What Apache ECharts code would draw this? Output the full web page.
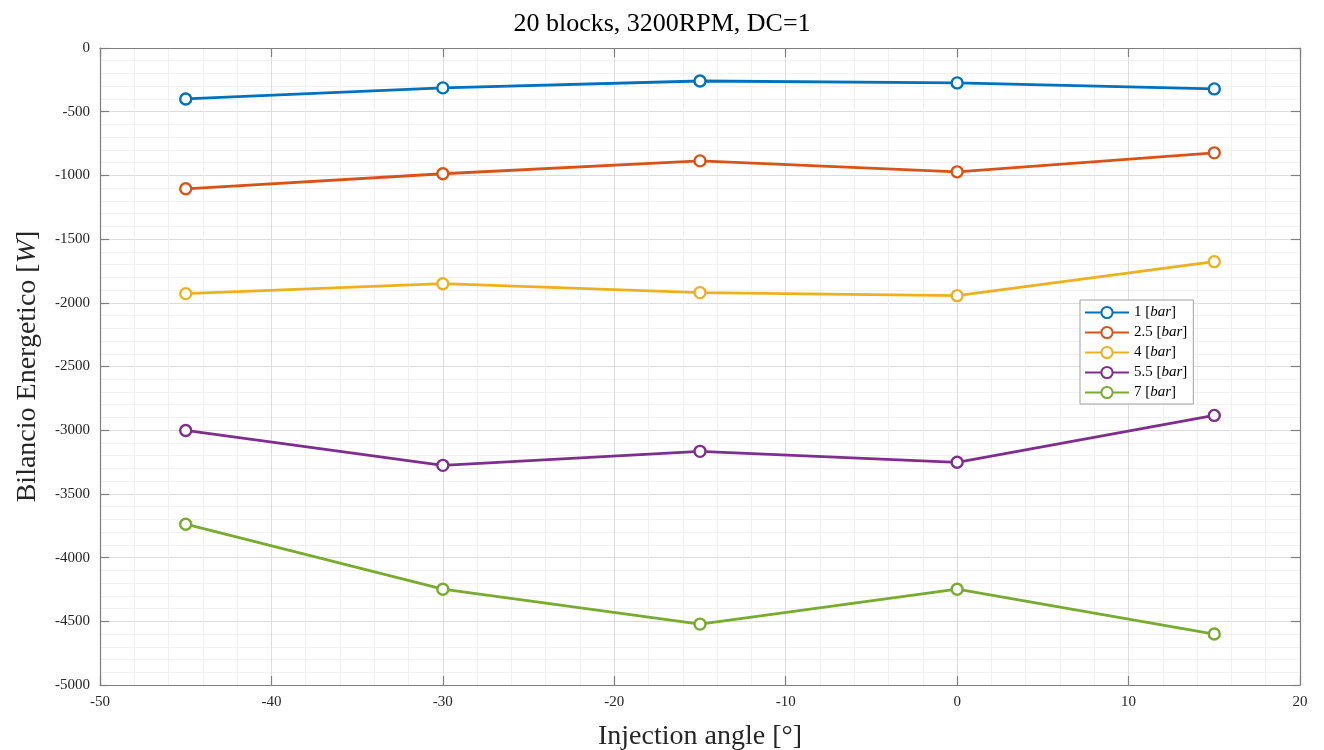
<!DOCTYPE html>
<html><head><meta charset="utf-8">
<script src="https://cdn.jsdelivr.net/npm/echarts@6/dist/echarts.min.js"></script>
<style>html,body{margin:0;padding:0;background:#fff}#c{width:1324px;height:750px}</style>
</head><body><div id="c"></div>
<script>
const angles = [-45, -30, -15, 0, 15];
const seriesNames = ['1', '2.5', '4', '5.5', '7'];
const p1 = [-400, -313, -259, -274, -321];
const p25 = [-1105, -987, -886, -972, -823];
const p4 = [-1928, -1850, -1920, -1944, -1677];
const p55 = [-3002, -3276, -3166, -3252, -2884];
const p7 = [-3738, -4248, -4522, -4248, -4600];
const xTicks = [-50, -40, -30, -20, -10, 0, 10, 20];
const yTicks = [-5000, -4500, -4000, -3500, -3000, -2500, -2000, -1500, -1000, -500, 0];
const colors = ['#0072BD', '#D95319', '#EDB120', '#7E2F8E', '#77AC30'];
const allVals = [p1, p25, p4, p55, p7];
const font = 'Liberation Serif';
const chart = echarts.init(document.getElementById('c'));
const axCol = '#7f7f7f';
const baseAxis = (isX) => ({
  type: 'value',
  min: isX ? xTicks[0] : yTicks[0],
  max: isX ? xTicks[xTicks.length-1] : yTicks[yTicks.length-1],
  interval: isX ? 10 : 500,
  axisLine: {show: true, onZero: false, lineStyle: {color: axCol, width: 1.2}},
  axisTick: {show: true, inside: true, length: 9, lineStyle: {color: axCol, width: 1.2}},
  minorTick: {show: false, splitNumber: 5},
  splitLine: {show: true, lineStyle: {color: '#dcdcdc', width: 1}},
  minorSplitLine: {show: true, lineStyle: {color: '#f1f1f1', width: 1}},
  axisLabel: {show: true, color: '#262626', fontFamily: font, fontSize: 15, formatter: (v) => String(v)}
});
const xMain = Object.assign(baseAxis(true), {
  position: 'bottom',
  name: 'Injection angle [°]', nameLocation: 'middle', nameGap: 38,
  nameTextStyle: {fontFamily: font, fontSize: 28, color: '#262626'},
  axisLabel: {show: true, color: '#262626', fontFamily: font, fontSize: 15, margin: 10, formatter: (v) => String(v)}
});
const xTop = Object.assign(baseAxis(true), {position: 'top', axisLabel: {show: false}, splitLine: {show: false}, minorSplitLine: {show: false}});
const yMain = Object.assign(baseAxis(false), {
  position: 'left',
  name: '{n|Bilancio Energetico [}{i|W}{n|]}', nameLocation: 'middle', nameGap: 58,
  nameTextStyle: {rich: {
    n: {fontFamily: font, fontSize: 28, color: '#262626'},
    i: {fontFamily: font, fontSize: 28, fontStyle: 'italic', color: '#262626'}
  }},
  axisLabel: {show: true, color: '#262626', fontFamily: font, fontSize: 15, margin: 10, formatter: (v) => String(v)}
});
const yRight = Object.assign(baseAxis(false), {position: 'right', axisLabel: {show: false}, splitLine: {show: false}, minorSplitLine: {show: false}});
const series = seriesNames.map((n, k) => ({
  name: n,
  type: 'line',
  xAxisIndex: 0, yAxisIndex: 0,
  data: angles.map((a, j) => [a, allVals[k][j]]),
  symbol: 'circle', symbolSize: 11, showSymbol: true,
  lineStyle: {color: colors[k], width: 2.8},
  itemStyle: {color: '#ffffff', borderColor: colors[k], borderWidth: 2.4},
  emphasis: {disabled: true},
  animation: false
}));
chart.setOption({
  backgroundColor: '#ffffff',
  animation: false,
  title: {text: '20 blocks, 3200RPM, DC=1', left: 'center', top: 6,
    textStyle: {fontFamily: font, fontSize: 26, fontWeight: 'normal', color: '#000'}},
  grid: {left: 100, right: 24, top: 48, bottom: 65, containLabel: false, outerBoundsMode: 'none'},
  xAxis: [xMain, xTop],
  yAxis: [yMain, yRight],
  legend: {
    orient: 'vertical', left: 1080, top: 300,
    backgroundColor: '#fff', borderColor: '#a0a0a0', borderWidth: 1,
    padding: [5, 6, 4, 4], itemGap: 5, itemWidth: 44, itemHeight: 14,
    data: seriesNames,
    formatter: (n) => n + ' [{i|bar}]',
    textStyle: {fontFamily: font, fontSize: 15, color: '#000', rich: {i: {fontFamily: font, fontSize: 15, fontStyle: 'italic'}}}
  },
  series: series
});
</script></body></html>
